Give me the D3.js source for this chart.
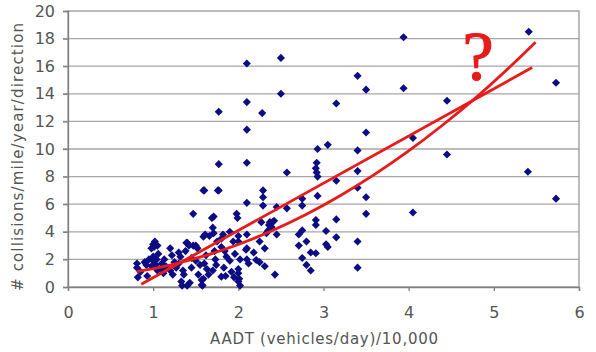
<!DOCTYPE html>
<html>
<head>
<meta charset="utf-8">
<script src="https://cdn.jsdelivr.net/npm/d3@7"></script>
<style>
  body { margin: 0; background: #fff; }
  text { font-family: "DejaVu Sans", sans-serif; fill: #555; }
</style>
</head>
<body>
<svg id="chart" width="596" height="352"></svg>
<script>

// observed sites: AADT (vehicles/day)/10,000 and collisions/mile/year/direction
var aadt = [
  0.81, 0.81, 0.82, 0.85, 0.90, 0.92, 0.93, 0.95,
  0.98, 1.00, 1.02, 1.00, 1.00, 1.03, 1.05, 0.98, 1.04, 1.06, 1.01, 1.05,
  1.10, 1.10, 1.12, 1.15, 1.13,
  1.20, 1.22, 1.20, 1.23, 1.25, 1.27,
  1.30, 1.32, 1.33, 1.34, 1.30, 1.35, 1.36, 1.38, 1.39,
  1.40, 1.42, 1.40, 1.43, 1.45, 1.47, 1.45, 1.47,
  1.50, 1.52, 1.50, 1.55, 1.53, 1.59, 1.57, 1.57,
  1.58, 1.59, 1.60, 1.62, 1.60, 1.63, 1.65, 1.66, 1.61,
  1.69, 1.70, 1.71, 1.72, 1.70, 1.73, 1.76, 1.75, 1.74, 1.71,
  1.80, 1.80, 1.82, 1.83, 1.85, 1.86, 1.84, 1.80,
  1.90, 1.90, 1.92, 1.95, 1.94, 1.96,
  1.98, 1.99, 2.00, 2.00, 2.00, 2.00, 2.01, 2.02, 2.02, 2.00,
  2.09, 2.10, 2.12, 2.10, 2.18, 2.21,
  1.77, 2.10, 2.10, 2.28, 2.10, 2.50, 2.50, 1.77, 2.10, 2.57,
  1.59, 1.77, 2.29, 2.29, 2.29, 2.10, 2.45, 2.57,
  2.37, 2.40, 2.36, 2.39, 2.35, 2.27, 2.45, 2.25, 2.31, 2.10,
  2.25, 2.31, 2.43, 2.33, 2.42,
  2.92, 2.91, 2.92, 2.93, 2.93, 2.75, 2.75,
  2.91, 2.91, 3.03, 2.75, 2.71, 2.80, 2.71, 3.03, 3.05,
  2.85, 2.91, 2.75, 2.80, 2.85,
  3.94, 5.41, 3.40, 3.50, 3.94, 3.15, 4.45, 5.73,
  3.50, 4.05, 2.93, 3.05, 3.40, 4.45, 3.40, 5.40,
  5.73, 4.05, 3.50, 3.50, 3.40, 3.15, 3.15, 3.15, 3.40, 3.40
];

var collisions = [
  1.7, 1.4, 0.7, 1.1, 1.8, 1.6, 0.8, 2.0,
  2.8, 3.1, 3.3, 2.2, 1.9, 1.6, 1.2, 1.5, 2.0, 2.4, 2.9, 3.0,
  1.7, 1.3, 1.0, 1.5, 2.0,
  2.8, 2.3, 1.2, 0.9, 1.8, 1.4,
  2.5, 2.2, 0.4, 0.1, 1.7, 1.2, 0.9, 2.6, 3.2,
  3.2, 3.0, 0.1, 0.3, 2.1, 5.3, 1.4, 3.0,
  3.0, 2.8, 1.9, 1.6, 0.9, 3.65, 0.5, 0.15,
  0.1, 0.6, 1.7, 2.3, 7.0, 1.3, 0.9, 3.7, 3.8,
  5.0, 4.3, 3.9, 2.6, 1.2, 2.0, 7.0, 3.3, 1.6, 5.1,
  3.5, 2.9, 3.8, 1.4, 0.8, 2.2, 2.6, 0.75,
  4.0, 1.9, 1.1, 0.7, 3.3, 2.4,
  5.3, 5.0, 3.7, 3.3, 1.3, 1.0, 0.6, 0.1, 2.0, 0.4,
  2.7, 2.0, 1.7, 3.8, 2.5, 1.96,
  12.7, 16.2, 13.4, 12.6, 11.4, 16.6, 14.0, 8.9, 9.0, 8.3,
  7.0, 7.0, 7.0, 6.5, 5.9, 6.1, 5.8, 5.7,
  4.7, 4.7, 4.5, 4.35, 4.1, 4.7, 3.8, 3.3, 2.8, 2.8,
  1.8, 1.5, 0.9, 3.9, 4.8,
  9.0, 8.6, 8.3, 8.0, 6.6, 6.4, 5.9,
  4.85, 4.5, 4.06, 4.1, 3.8, 3.3, 3.0, 3.1, 2.9,
  2.5, 2.45, 2.1, 1.6, 1.2,
  18.1, 18.5, 15.3, 14.3, 14.4, 13.3, 13.5, 14.8,
  11.2, 10.8, 10.0, 10.3, 9.9, 9.6, 8.4, 8.35,
  6.4, 5.4, 6.5, 5.3, 7.2, 7.7, 4.9, 3.6, 3.3, 1.4
];

// the two red fits
var lineFitX = [0.86, 5.45];
var lineFitY = [0.2, 15.9];
var curveFitX = [0.81, 1.2, 1.6, 2.0, 2.4, 2.8, 3.2, 3.6, 4.0, 4.4, 4.8, 5.2, 5.49];
var curveFitY = [1.12, 1.59, 2.25, 3.08, 4.09, 5.27, 6.63, 8.16, 9.86, 11.74, 13.78, 16.01, 17.73];

var xTicks = [0, 1, 2, 3, 4, 5, 6];
var yTicks = [0, 2, 4, 6, 8, 10, 12, 14, 16, 18, 20];

var margin = {left: 68, top: 11, right: 17, bottom: 65};
var W = 596, H = 352;
var svg = d3.select('#chart');

var x = d3.scaleLinear().domain([0, 6]).range([margin.left, W - margin.right]);
var y = d3.scaleLinear().domain([0, 20]).range([H - margin.bottom, margin.top]);

// gridlines
svg.append('g')
  .selectAll('line')
  .data(yTicks.slice(1, -1))
  .enter()
  .append('line')
  .attr('x1', x(0) - 5)
  .attr('x2', x(6))
  .attr('y1', d => y(d))
  .attr('y2', d => y(d))
  .attr('stroke', '#a6a6a6')
  .attr('stroke-width', 1.3);

// frame
svg.append('rect')
  .attr('x', x(0))
  .attr('y', y(20))
  .attr('width', x(6) - x(0))
  .attr('height', y(0) - y(20))
  .attr('fill', 'none')
  .attr('stroke', '#999')
  .attr('stroke-width', 1.3);

// axes
var xAxis = svg.append('g')
  .attr('transform', 'translate(0,' + y(0) + ')')
  .call(d3.axisBottom(x).tickValues(xTicks).tickSize(4).tickPadding(16).tickFormat(d3.format('d')));
var yAxis = svg.append('g')
  .attr('transform', 'translate(' + x(0) + ',0)')
  .call(d3.axisLeft(y).tickValues(yTicks).tickSize(5).tickPadding(8).tickFormat(d3.format('d')));

[xAxis, yAxis].forEach(function(g) {
  g.select('.domain').attr('stroke', '#808080').attr('stroke-width', 1.3);
  g.selectAll('.tick line').attr('stroke', '#808080').attr('stroke-width', 1.3);
  g.selectAll('.tick text').attr('font-size', 16).attr('fill', '#555')
    .attr('font-family', '"DejaVu Sans", sans-serif');
});

// points
var pts = aadt.map((a, i) => ({a: a, c: collisions[i]}));
svg.append('g')
  .selectAll('path')
  .data(pts)
  .enter()
  .append('path')
  .attr('d', d3.symbol().type(d3.symbolSquare).size(33))
  .attr('transform', d => 'translate(' + x(d.a) + ',' + y(d.c) + ') rotate(45)')
  .attr('fill', '#0c0c84');

// fitted curves
var line = d3.line().x(d => x(d[0])).y(d => y(d[1]));
var curve = d3.line().x(d => x(d[0])).y(d => y(d[1])).curve(d3.curveMonotoneX);

svg.append('path')
  .attr('d', line(lineFitX.map((v, i) => [v, lineFitY[i]])))
  .attr('fill', 'none')
  .attr('stroke', '#e81a1a')
  .attr('stroke-width', 2.8);

svg.append('path')
  .attr('d', curve(curveFitX.map((v, i) => [v, curveFitY[i]])))
  .attr('fill', 'none')
  .attr('stroke', '#e81a1a')
  .attr('stroke-width', 2.8);

// question mark
svg.append('text')
  .attr('x', 478)
  .attr('y', 80)
  .attr('text-anchor', 'middle')
  .style('font-family', '"Liberation Serif", serif')
  .style('font-size', '70px')
  .style('fill', '#e81a1a')
  .style('stroke', '#e81a1a')
  .style('stroke-width', 1.2)
  .text('?');

// axis titles
svg.append('text')
  .attr('x', 324)
  .attr('y', 344)
  .attr('text-anchor', 'middle')
  .attr('font-size', 15)
  .attr('textLength', 228)
  .attr('lengthAdjust', 'spacing')
  .text('AADT (vehicles/day)/10,000');

svg.append('text')
  .attr('transform', 'translate(23,157) rotate(-90)')
  .attr('text-anchor', 'middle')
  .attr('font-size', 15)
  .attr('textLength', 268)
  .attr('lengthAdjust', 'spacing')
  .text('# collisions/mile/year/direction');

</script>
</body>
</html>
